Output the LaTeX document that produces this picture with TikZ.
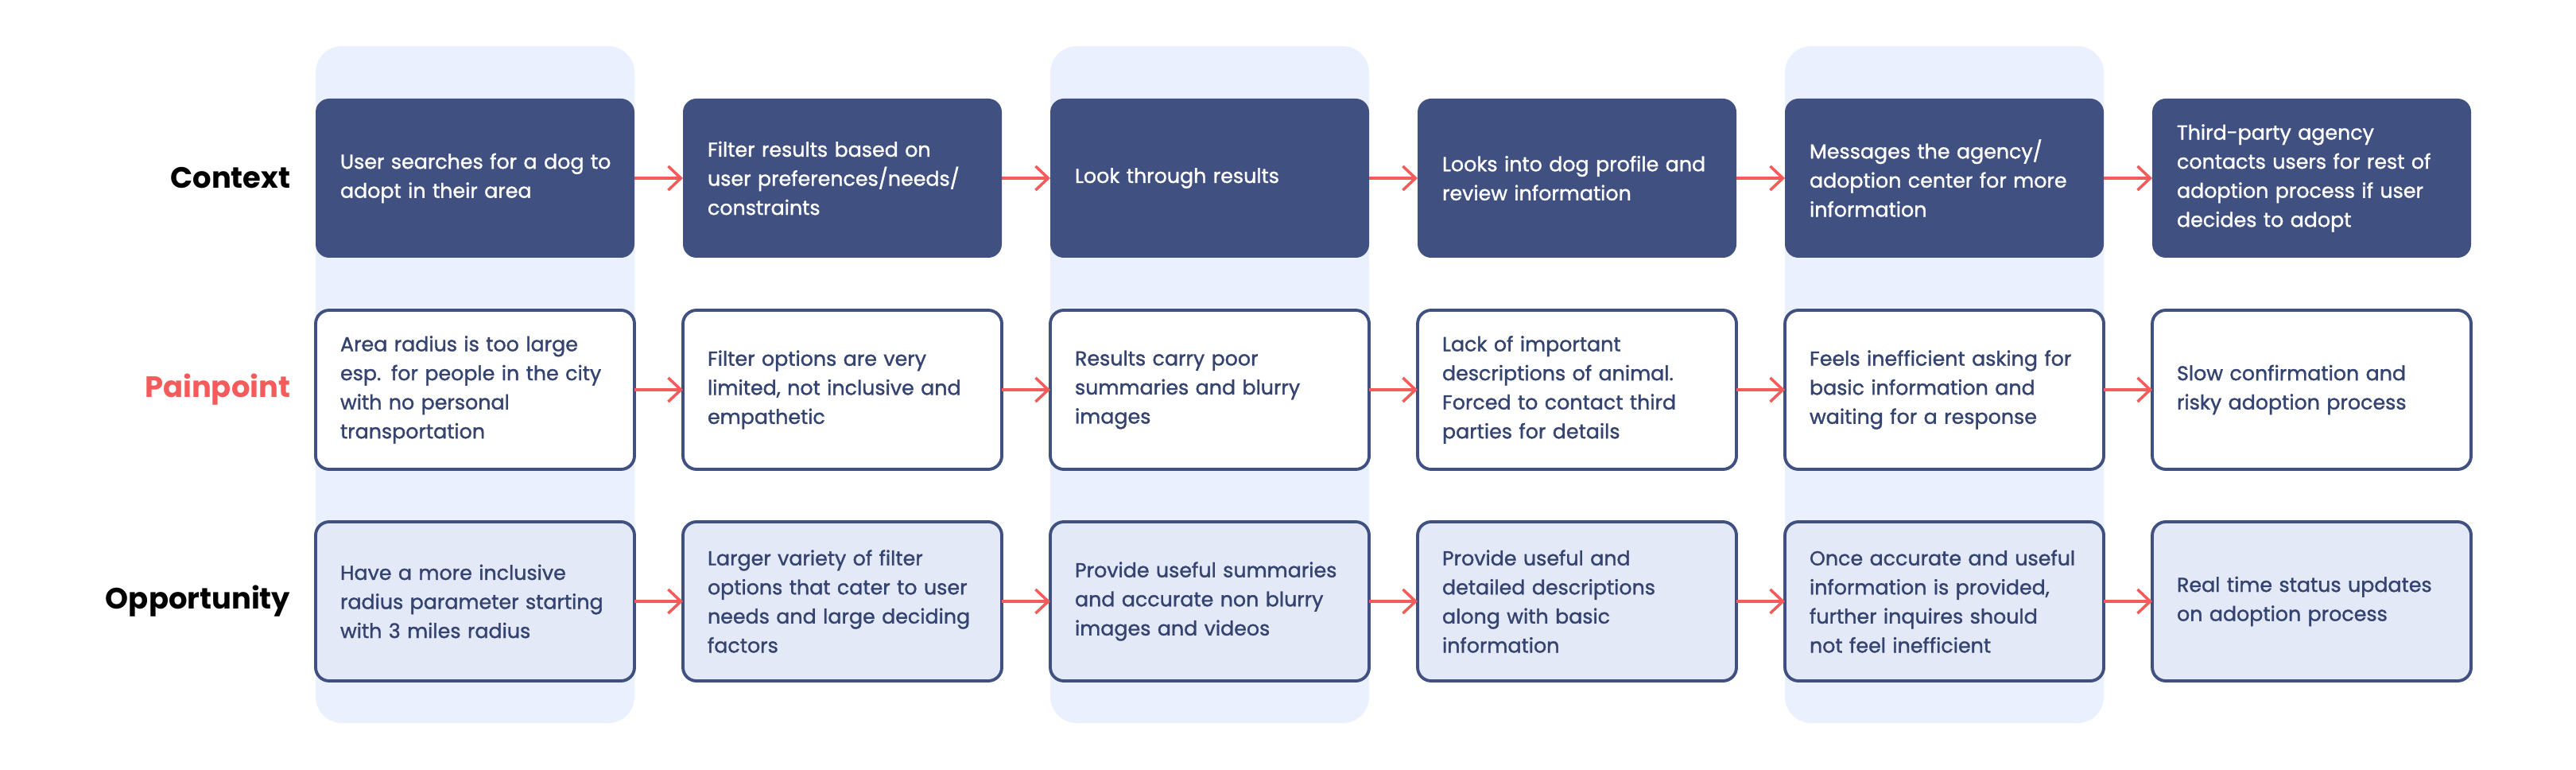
\documentclass[tikz,border=0pt]{standalone}
\usepackage{fontspec}
\setmainfont{Poppins}
\newfontfamily\stagefont{Poppins}[FakeBold=1.3]
\usepackage{xcolor}
\usepackage{tikz}
\usetikzlibrary{arrows.meta,positioning}

\definecolor{navy}{HTML}{3F5081}
\definecolor{navytext}{HTML}{34436F}
\definecolor{bandblue}{HTML}{EAF0FD}
\definecolor{oppfill}{HTML}{E3E9F7}
\definecolor{painred}{HTML}{F45B5B}

\begin{document}
\begin{tikzpicture}[
    node distance=0.66cm and 0.61cm,
    stage/.style={rectangle, rounded corners=0.17cm, minimum width=4.01cm, minimum height=2cm,
        outer sep=0pt, text width=3.85cm, inner xsep=0.08cm, inner ysep=0pt,
        font=\stagefont\fontsize{7.2pt}{10.4pt}\selectfont,
        execute at begin node={\leftskip=0.23cm\rightskip=0pt plus 1fil}},
    context/.style={stage, fill=navy, text=white},
    pain/.style={stage, draw=navy, line width=1.1pt, fill=white, text=navytext},
    opp/.style={stage, draw=navy, line width=1.1pt, fill=oppfill, text=navytext},
    rowlabel/.style={inner sep=0pt, font=\fontsize{10.5pt}{13pt}\selectfont\bfseries},
    flow/.style={-{Straight Barb[length=0.16cm, width=0.3cm]}, draw=painred, line width=1pt}
]
\useasboundingbox (0,0) rectangle (32.4,-9.68);

% highlighted columns
\fill[bandblue, rounded corners=0.33cm] (3.97,-0.58) rectangle (7.98,-9.09);
\fill[bandblue, rounded corners=0.33cm] (13.21,-0.58) rectangle (17.22,-9.09);
\fill[bandblue, rounded corners=0.33cm] (22.45,-0.58) rectangle (26.46,-9.09);

% context row
\node[context] (c1) at (5.975,-2.24) {User searches for a dog to\\adopt in their area};
\node[context, right=of c1] (c2) {Filter results based on\\user preferences/needs/\\constraints};
\node[context, right=of c2] (c3) {Look through results};
\node[context, right=of c3] (c4) {Looks into dog profile and\\review information};
\node[context, right=of c4] (c5) {Messages the agency/\\adoption center for more\\information};
\node[context, right=of c5] (c6) {Third-party agency\\contacts users for rest of\\adoption process if user\\decides to adopt};

% painpoint row
\node[pain, below=of c1] (p1) {Area radius is too large\\esp. for people in the city\\with no personal\\transportation};
\node[pain, below=of c2] (p2) {Filter options are very\\limited, not inclusive and\\empathetic};
\node[pain, below=of c3] (p3) {Results carry poor\\summaries and blurry\\images};
\node[pain, below=of c4] (p4) {Lack of important\\descriptions of animal.\\Forced to contact third\\parties for details};
\node[pain, below=of c5] (p5) {Feels inefficient asking for\\basic information and\\waiting for a response};
\node[pain, below=of c6] (p6) {Slow confirmation and\\risky adoption process};

% opportunity row
\node[opp, below=of p1] (o1) {Have a more inclusive\\radius parameter starting\\with 3 miles radius};
\node[opp, below=of p2] (o2) {Larger variety of filter\\options that cater to user\\needs and large deciding\\factors};
\node[opp, below=of p3] (o3) {Provide useful summaries\\and accurate non blurry\\images and videos};
\node[opp, below=of p4] (o4) {Provide useful and\\detailed descriptions\\along with basic\\information};
\node[opp, below=of p5] (o5) {Once accurate and useful\\information is provided,\\further inquires should\\not feel inefficient};
\node[opp, below=of p6] (o6) {Real time status updates\\on adoption process};

% row labels
\node[rowlabel, left=0.31cm of c1] (lctx) {Context};
\node[rowlabel, left=0.31cm of p1, text=painred] (lpain) {Painpoint};
\node[rowlabel, left=0.31cm of o1] (lopp) {Opportunity};

\draw[flow] (c1) -- (c2);
\draw[flow] (c2) -- (c3);
\draw[flow] (c3) -- (c4);
\draw[flow] (c4) -- (c5);
\draw[flow] (c5) -- (c6);
\draw[flow] (p1) -- (p2);
\draw[flow] (p2) -- (p3);
\draw[flow] (p3) -- (p4);
\draw[flow] (p4) -- (p5);
\draw[flow] (p5) -- (p6);
\draw[flow] (o1) -- (o2);
\draw[flow] (o2) -- (o3);
\draw[flow] (o3) -- (o4);
\draw[flow] (o4) -- (o5);
\draw[flow] (o5) -- (o6);

\end{tikzpicture}
\end{document}
